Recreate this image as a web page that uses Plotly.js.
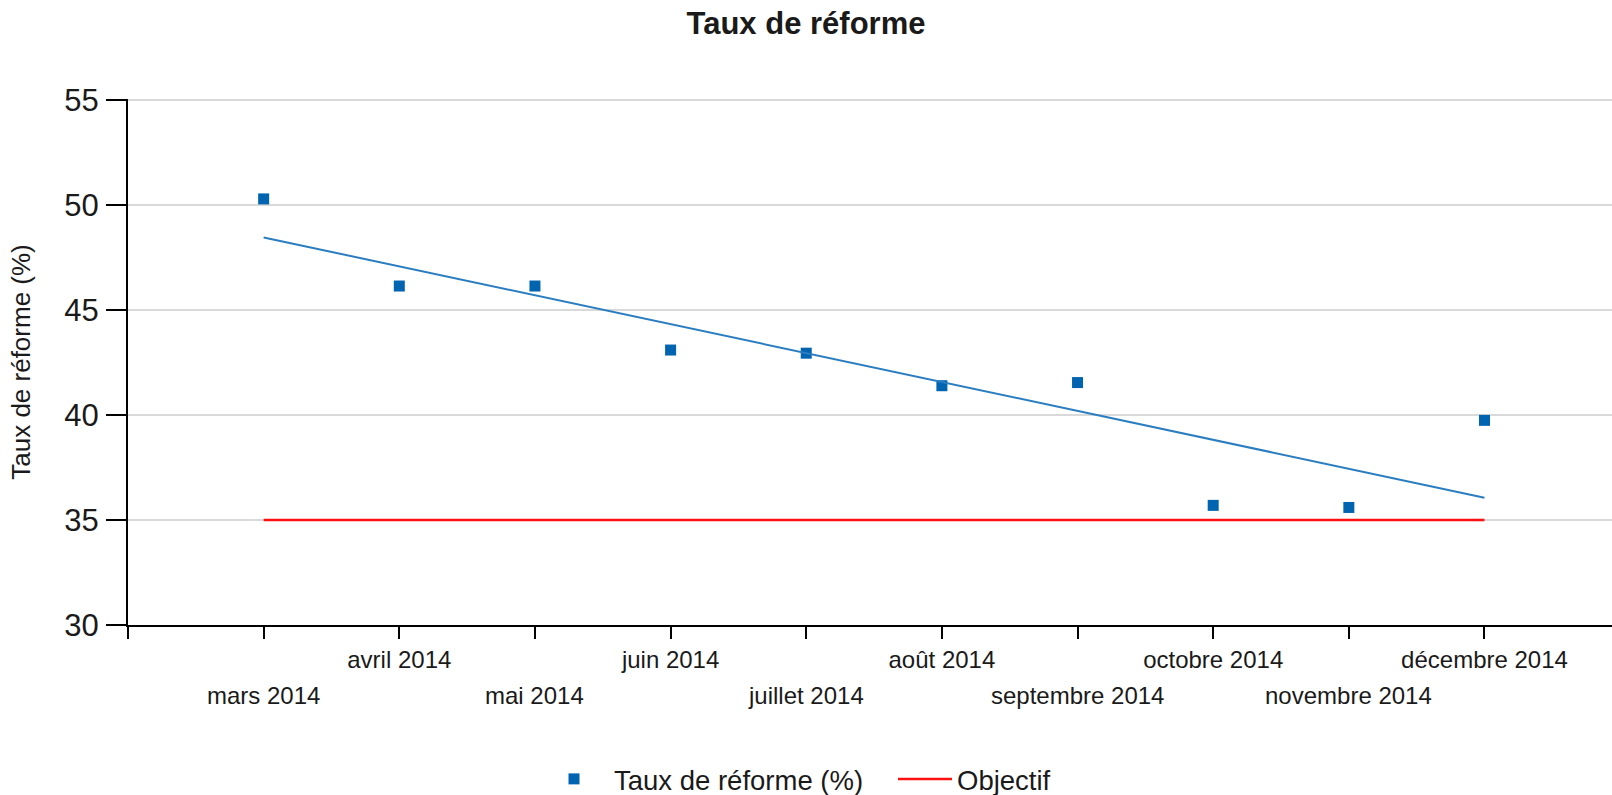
<!DOCTYPE html>
<html>
<head>
<meta charset="utf-8">
<script src="https://cdn.plot.ly/plotly-3.0.1.min.js"></script>
<style>
  html, body { margin: 0; padding: 0; background: #ffffff; }
  #chart { width: 1612px; height: 795px; }
</style>
</head>
<body>
<div id="chart"></div>
<script>
// ---- Data ----
const months = ["mars 2014", "avril 2014", "mai 2014", "juin 2014", "juillet 2014",
                "août 2014", "septembre 2014", "octobre 2014", "novembre 2014", "décembre 2014"];
const tauxReforme = [50.3, 46.15, 46.15, 43.1, 42.95, 41.4, 41.55, 35.7, 35.6, 39.75];
const objectif = [35, 35, 35, 35, 35, 35, 35, 35, 35, 35];
const yTicks = [30, 35, 40, 45, 50, 55];

const seriesName = "Taux de réforme (%)";
const objectifName = "Objectif";
const chartTitle = "Taux de réforme";
const yTitle = "Taux de réforme (%)";

// ---- Build ----
const xIdx = months.map((_, i) => i);

// linear trend line (least squares) of the series
const n = tauxReforme.length;
const mx = xIdx.reduce((a, b) => a + b, 0) / n;
const my = tauxReforme.reduce((a, b) => a + b, 0) / n;
let sxy = 0, sxx = 0;
for (let i = 0; i < n; i++) { sxy += (xIdx[i] - mx) * (tauxReforme[i] - my); sxx += (xIdx[i] - mx) ** 2; }
const slope = sxy / sxx, intercept = my - slope * mx;
const trendX = [xIdx[0], xIdx[n - 1]];
const trendY = trendX.map(x => intercept + slope * x);

const FONT = "Liberation Sans, Arial, sans-serif";
const TXT = "#1a1a1a";

const traces = [
  {
    x: xIdx, y: tauxReforme, type: "scatter", mode: "markers", name: seriesName,
    marker: { symbol: "square", size: 11, color: "#0064b0" },
    legend: "legend", hoverinfo: "skip"
  },
  {
    x: trendX, y: trendY, type: "scatter", mode: "lines", showlegend: false,
    line: { color: "#2a7dc0", width: 2 }, hoverinfo: "skip"
  },
  {
    x: xIdx, y: objectif, type: "scatter", mode: "lines", name: objectifName,
    line: { color: "#ff1010", width: 2.5 }, legend: "legend2", hoverinfo: "skip"
  }
];

// alternate rows: odd indexes on the first row (tick labels), even on the second (annotations)
const tickvals = [-1].concat(xIdx);
const ticktext = [""].concat(months.map((m, i) => (i % 2 === 1 ? m : "")));
const lowerRow = months.map((m, i) => ({ m, i })).filter(o => o.i % 2 === 0).map(o => ({
  x: o.i, xref: "x", y: 0, yref: "paper", yanchor: "middle", xanchor: "center",
  yshift: -70, showarrow: false, text: o.m,
  font: { family: FONT, size: 24, color: TXT }
}));

const legendBase = {
  orientation: "h", xref: "container", xanchor: "left",
  yref: "container", y: 1 - 779 / 795, yanchor: "middle",
  font: { family: FONT, size: 27.5, color: TXT },
  bgcolor: "rgba(0,0,0,0)", borderwidth: 0
};

const layout = {
  width: 1612, height: 795,
  paper_bgcolor: "#ffffff", plot_bgcolor: "#ffffff",
  margin: { l: 128, r: 0, t: 99, b: 170 },
  title: {
    text: chartTitle, x: 0.5, xref: "container", xanchor: "center",
    y: 1 - 23 / 795, yref: "container", yanchor: "middle",
    font: { family: FONT, size: 31, color: TXT, weight: "bold" }
  },
  xaxis: {
    type: "linear", range: [-1, 9.94], fixedrange: true,
    tickvals: tickvals, ticktext: ticktext,
    showgrid: false, zeroline: false,
    showline: true, linecolor: "#000000", linewidth: 2,
    ticks: "outside", ticklen: 12, tickwidth: 2, tickcolor: "#000000",
    ticklabelstandoff: 0,
    tickfont: { family: FONT, size: 24, color: TXT }
  },
  yaxis: {
    range: [30, 55.06], fixedrange: true, tickvals: yTicks,
    showgrid: true, gridcolor: "#d9d9d9", gridwidth: 1.8,
    zeroline: false,
    showline: true, linecolor: "#000000", linewidth: 2,
    ticks: "outside", ticklen: 20, tickwidth: 2, tickcolor: "#000000",
    ticklabelstandoff: 1,
    tickfont: { family: FONT, size: 31, color: TXT },
    title: { text: yTitle, standoff: 26, font: { family: FONT, size: 26, color: TXT } },
    automargin: true
  },
  showlegend: true,
  legend: Object.assign({}, legendBase, { x: 534 / 1612, itemwidth: 70 }),
  legend2: Object.assign({}, legendBase, { x: 893 / 1612, itemwidth: 54 }),
  annotations: lowerRow
};

Plotly.newPlot("chart", traces, layout, { displayModeBar: false, staticPlot: true });
</script>
</body>
</html>
